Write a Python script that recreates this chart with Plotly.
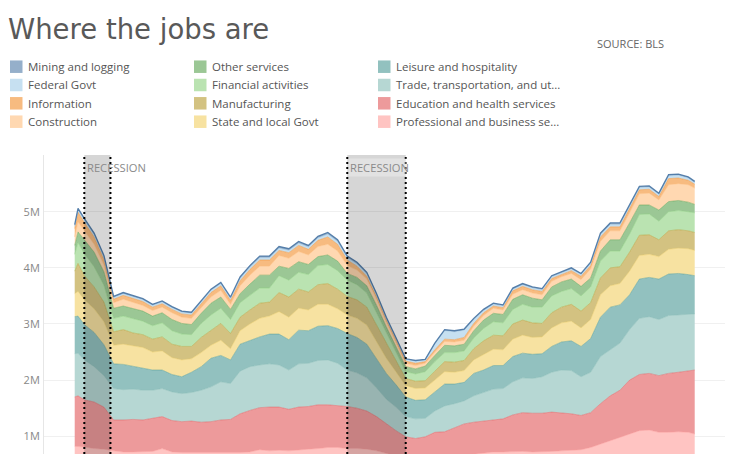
import plotly.graph_objects as go

# ---------------- data (job openings, millions) ----------------
DATES = ["2000-12-01", "2001-01-01", "2001-03-01", "2001-06-01", "2001-09-01", "2001-12-01",
         "2002-03-01", "2002-06-01", "2002-09-01", "2002-12-01",
         "2003-03-01", "2003-06-01", "2003-09-01", "2003-12-01",
         "2004-03-01", "2004-06-01", "2004-09-01", "2004-12-01",
         "2005-03-01", "2005-06-01", "2005-09-01", "2005-12-01",
         "2006-03-01", "2006-06-01", "2006-09-01", "2006-12-01",
         "2007-03-01", "2007-06-01", "2007-09-01", "2007-12-01",
         "2008-03-01", "2008-06-01", "2008-09-01", "2008-12-01",
         "2009-03-01", "2009-06-01", "2009-09-01", "2009-12-01",
         "2010-03-01", "2010-06-01", "2010-09-01", "2010-12-01",
         "2011-03-01", "2011-06-01", "2011-09-01", "2011-12-01",
         "2012-03-01", "2012-06-01", "2012-09-01", "2012-12-01",
         "2013-03-01", "2013-06-01", "2013-09-01", "2013-12-01",
         "2014-03-01", "2014-06-01", "2014-09-01", "2014-12-01",
         "2015-03-01", "2015-06-01", "2015-09-01", "2015-12-01",
         "2016-03-01", "2016-06-01", "2016-09-01", "2016-11-01"]

professional = [.82, .82, .81, .78, .77, .74, .72, .72, .72, .73, .78, .72, .71, .71, .70, .70, .71, .71,
                .71, .72, .76, .74, .75, .74, .76, .77, .78, .80, .80, .78, .78, .77, .74, .70, .65, .60,
                .58, .58, .60, .62, .64, .66, .68, .70, .72, .72, .73, .73, .72, .72, .73, .74, .75, .76,
                .80, .86, .92, .98, 1.04, 1.10, 1.11, 1.07, 1.07, 1.08, 1.07, 1.04]
education = [.88, .90, .84, .83, .75, .55, .57, .58, .57, .59, .57, .56, .55, .56, .55, .56, .58, .59,
             .69, .74, .75, .78, .77, .74, .76, .76, .78, .76, .75, .75, .72, .68, .61, .52, .45, .39,
             .38, .41, .47, .46, .51, .56, .57, .57, .58, .59, .65, .69, .69, .69, .70, .68, .65, .61,
             .62, .72, .80, .84, .96, 1.00, 1.01, 1.01, 1.05, 1.06, 1.10, 1.14]
trade = [.77, .76, .71, .63, .56, .56, .54, .54, .53, .50, .50, .51, .50, .51, .57, .62, .68, .64,
         .76, .78, .76, .77, .75, .70, .77, .77, .79, .80, .75, .65, .63, .59, .51, .44, .42, .36,
         .35, .33, .38, .46, .43, .41, .47, .51, .54, .54, .59, .62, .62, .65, .71, .76, .77, .69,
         .72, .84, .82, .84, .90, 1.00, 1.01, 1.00, 1.03, 1.02, 1.01, 1.00]
leisure = [.66, .66, .63, .61, .55, .44, .45, .41, .39, .36, .33, .31, .30, .36, .42, .51, .47, .42,
           .48, .47, .50, .53, .55, .54, .60, .58, .61, .61, .62, .65, .63, .60, .53, .46, .40, .35,
           .33, .33, .34, .39, .35, .33, .40, .40, .42, .41, .45, .44, .43, .41, .46, .50, .53, .54,
           .60, .70, .76, .68, .62, .70, .70, .72, .74, .74, .70, .68]
state_local = [.41, .44, .44, .42, .41, .33, .36, .36, .37, .32, .34, .30, .30, .24, .25, .23, .27, .20,
               .24, .29, .33, .32, .40, .40, .39, .37, .39, .38, .35, .33, .34, .34, .30, .27, .23, .20,
               .21, .21, .21, .22, .21, .21, .24, .27, .29, .28, .31, .32, .30, .30, .33, .34, .35, .33,
               .34, .40, .38, .38, .42, .42, .41, .40, .44, .45, .46, .45]
manufacturing = [.40, .50, .43, .39, .35, .24, .26, .23, .23, .23, .25, .24, .24, .22, .27, .27, .30, .27,
                 .24, .25, .27, .25, .34, .36, .34, .32, .35, .37, .35, .33, .33, .32, .29, .25, .18, .13,
                 .13, .13, .16, .18, .18, .18, .20, .25, .25, .25, .27, .27, .26, .24, .27, .28, .30, .30,
                 .30, .30, .32, .30, .34, .36, .35, .30, .33, .33, .32, .32]
financial = [.30, .37, .39, .36, .30, .24, .24, .25, .24, .24, .25, .24, .22, .21, .25, .27, .27, .25,
             .26, .26, .27, .25, .30, .30, .30, .31, .34, .34, .33, .29, .27, .25, .22, .19, .16, .12,
             .13, .16, .17, .16, .17, .17, .19, .22, .24, .23, .26, .28, .28, .29, .30, .28, .28, .27,
             .28, .30, .30, .28, .32, .37, .37, .33, .34, .34, .34, .35]
other_services = [.16, .19, .25, .26, .24, .18, .18, .18, .18, .17, .18, .20, .19, .18, .18, .21, .20, .18,
                  .16, .20, .23, .23, .17, .21, .19, .18, .16, .17, .17, .12, .13, .13, .13, .12, .11, .09,
                  .09, .10, .11, .13, .12, .12, .13, .15, .15, .15, .18, .17, .16, .13, .16, .17, .17, .17,
                  .16, .18, .20, .20, .20, .17, .16, .20, .18, .18, .17, .15]
construction = [.15, .18, .16, .14, .12, .10, .12, .11, .10, .10, .10, .12, .11, .11, .10, .11, .12, .09,
                .14, .16, .16, .16, .19, .18, .18, .17, .18, .19, .18, .14, .13, .12, .11, .09, .08, .06,
                .06, .05, .06, .07, .07, .07, .08, .08, .09, .08, .09, .09, .09, .09, .10, .09, .10, .12,
                .16, .17, .16, .16, .18, .20, .21, .18, .30, .30, .31, .29]
information = [.15, .17, .15, .13, .10, .06, .07, .07, .07, .06, .06, .06, .06, .06, .07, .08, .08, .07,
               .09, .10, .11, .11, .09, .10, .11, .10, .11, .13, .12, .10, .07, .05, .04, .03, .04, .04,
               .04, .03, .04, .04, .04, .05, .05, .05, .04, .04, .06, .06, .06, .06, .05, .04, .05, .06,
               .06, .08, .07, .07, .07, .07, .07, .06, .11, .10, .08, .07]
federal = [.04, .04, .04, .04, .04, .03, .03, .03, .03, .03, .03, .03, .03, .03, .04, .04, .04, .04,
           .04, .04, .04, .04, .04, .04, .04, .04, .04, .05, .05, .04, .04, .04, .04, .03, .03, .03,
           .04, .03, .11, .15, .14, .13, .07, .04, .03, .03, .03, .03, .03, .03, .03, .03, .03, .03,
           .04, .04, .04, .04, .04, .04, .04, .04, .05, .05, .04, .03]
mining = [.03, .03, .03, .03, .03, .02, .02, .02, .02, .02, .02, .02, .02, .02, .02, .02, .02, .02,
          .03, .03, .03, .03, .03, .03, .03, .03, .03, .03, .03, .03, .03, .03, .02, .02, .01, .01,
          .01, .01, .01, .02, .02, .02, .02, .02, .02, .02, .02, .02, .02, .02, .02, .02, .02, .02,
          .02, .03, .03, .03, .03, .02, .02, .02, .02, .02, .02, .02]

SERIES_NAMES = ["Professional and business se...", "Education and health services",
                "Trade, transportation, and ut...", "Leisure and hospitality",
                "State and local Govt", "Manufacturing", "Financial activities",
                "Other services", "Construction", "Information", "Federal Govt",
                "Mining and logging"]
SERIES_VALUES = [professional, education, trade, leisure, state_local, manufacturing,
                 financial, other_services, construction, information, federal, mining]
BASE_COLORS = [(255, 157, 154), (225, 87, 89), (134, 188, 182), (73, 152, 148),
               (241, 206, 99), (182, 153, 45), (140, 209, 125), (89, 161, 79),
               (255, 190, 125), (242, 142, 43), (160, 203, 232), (78, 121, 167)]

LEGEND_COLUMNS = [["Mining and logging", "Federal Govt", "Information", "Construction"],
                  ["Other services", "Financial activities", "Manufacturing", "State and local Govt"],
                  ["Leisure and hospitality", "Trade, transportation, and ut...",
                   "Education and health services", "Professional and business se..."]]

RECESSIONS = [("2001-03-01", "2001-11-01"), ("2007-12-01", "2009-06-01")]
TICK_VALS = [1, 2, 3, 4, 5]
TICK_TEXT = ["1M", "2M", "3M", "4M", "5M"]

# ---------------- layout geometry ----------------
# The page body has an 8px margin, so the figure is drawn 8px smaller
# and every screen position below is given relative to that offset.
OFF = 8
W, H = 736 - OFF, 454 - OFF
ML, MR, MT, MB = 44 - OFF, 11, 155 - OFF, 0
PW, PH = W - ML - MR, H - MT - MB


def px(xs):
    """screen x (reference pixels) -> paper x"""
    return (xs - OFF - ML) / PW


def py(ys):
    """screen y (reference pixels) -> paper y"""
    return (H - MB - (ys - OFF)) / PH


def light(rgb, a=0.6):
    r, g, b = (round(a * c + (1 - a) * 255) for c in rgb)
    return f"rgb({r},{g},{b})"


def edge(rgb, a=0.75):
    return f"rgba({rgb[0]},{rgb[1]},{rgb[2]},{a})"


fig = go.Figure()
color_of = {}
for name, vals, base in zip(SERIES_NAMES, SERIES_VALUES, BASE_COLORS):
    color_of[name] = base
    top = name == "Mining and logging"
    fig.add_trace(go.Scatter(
        x=DATES, y=vals, name=name, mode="lines", stackgroup="jobs",
        line=dict(width=1.3 if top else 0.8, color=edge(base, 0.95 if top else 0.6)),
        fillcolor=light(base), showlegend=False, hoverinfo="x+y+name"))

shapes = []
annotations = []

# legend: three columns of four swatches
col_x = [10, 194, 378]
row_y = [66.7, 85, 103.3, 121.7]
SW = 12.5
for cx, col in zip(col_x, LEGEND_COLUMNS):
    for ry, name in zip(row_y, col):
        shapes.append(dict(type="rect", xref="paper", yref="paper",
                           x0=px(cx), x1=px(cx + SW), y0=py(ry + SW / 2), y1=py(ry - SW / 2),
                           fillcolor=light(color_of[name]), line=dict(width=0), layer="above"))
        annotations.append(dict(text=name, xref="paper", yref="paper", x=px(cx + 16), y=py(ry),
                                xanchor="left", yanchor="middle", showarrow=False,
                                font=dict(family="Open Sans", size=11.5, color="#555")))

for i, (a, b) in enumerate(RECESSIONS):
    shapes.append(dict(type="rect", xref="x", yref="paper", x0=a, x1=b, y0=0, y1=1,
                       fillcolor="rgba(0,0,0,0.16)", line=dict(width=0), layer="above"))
    for xv in (a, b):
        shapes.append(dict(type="line", xref="x", yref="paper", x0=xv, x1=xv, y0=0, y1=1,
                           line=dict(color="black", width=2, dash="2px,3px"), layer="above"))
    annotations.append(dict(text="RECESSION", xref="x", yref="paper", x=a, y=1,
                            xanchor="left", yanchor="top", xshift=1, yshift=-3, showarrow=False,
                            font=dict(family="Open Sans", size=11.2, color="#8a8a8a"),
                            bgcolor="rgba(255,255,255,0.3)" if i == 1 else None, borderpad=1))

annotations.append(dict(text="SOURCE: BLS", xref="paper", yref="paper",
                        x=px(595), y=py(43), xanchor="left", yanchor="middle", showarrow=False,
                        font=dict(family="Open Sans", size=11, color="#666")))

fig.update_layout(
    width=W, height=H,
    margin=dict(l=ML, r=MR, t=MT, b=MB, pad=0, autoexpand=False),
    paper_bgcolor="white", plot_bgcolor="white",
    font=dict(family="Open Sans", color="#555"),
    title=dict(text="Where the jobs are", xref="container", yref="container",
               x=0, xanchor="left", y=1 - (29 - OFF) / H, yanchor="middle",
               font=dict(family="DejaVu Sans", size=27.5, color="#595959")),
    xaxis=dict(type="date", range=["2000-02-17", "2017-08-12"], showgrid=False,
               showticklabels=False, zeroline=False, showline=False, ticks=""),
    yaxis=dict(range=[0.684, 6.01], tickmode="array", tickvals=TICK_VALS, ticktext=TICK_TEXT,
               showgrid=True, gridcolor="#F0F0F0", gridwidth=1, zeroline=False,
               showline=True, linecolor="#E6E6E6", linewidth=1, ticks="",
               ticklabelstandoff=1, tickfont=dict(family="Open Sans", size=11, color="#888")),
    showlegend=False,
    shapes=shapes, annotations=annotations,
)

fig.write_html("out.html")
